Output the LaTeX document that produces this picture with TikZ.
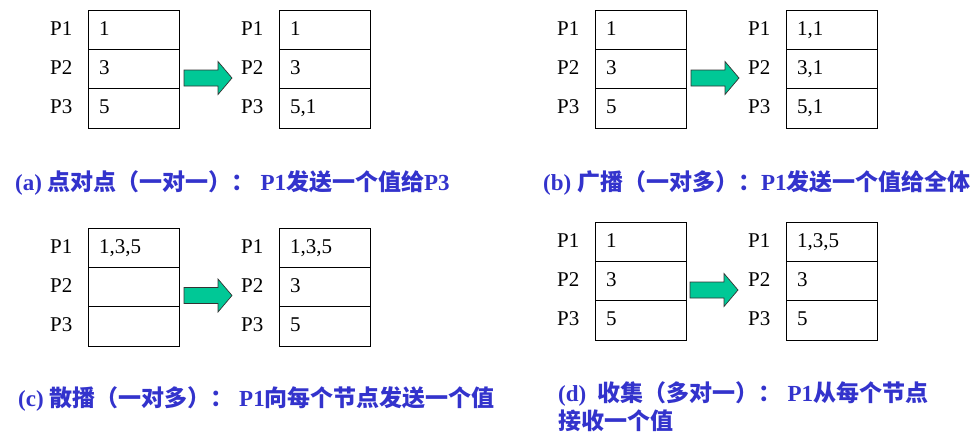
\documentclass[tikz,border=0pt]{standalone}
\usepackage{fontspec}
\setmainfont{Liberation Serif}
\newfontfamily\cjkf{Noto Sans CJK SC}
\usetikzlibrary{positioning}
\definecolor{capblue}{RGB}{51,51,204}
\definecolor{arrgreen}{RGB}{0,200,150}
\newcommand\cj[1]{{\cjkf\bfseries #1}}
\tikzset{
  cell/.style={draw, line width=0.9pt, minimum width=91pt, minimum height=39.3pt,
    text width=69pt, inner xsep=11pt, inner ysep=0pt, text height=15pt, text depth=4pt, align=left, font=\fontsize{21}{21}\selectfont},
  plabel/.style={anchor=west, inner sep=0pt, text height=15pt, text depth=4pt, font=\fontsize{21}{21}\selectfont},
  barr/.style={draw=black!80, line width=0.7pt, fill=arrgreen},
  caption/.style={anchor=west, inner sep=0pt, text=capblue, font=\fontsize{23}{28}\selectfont\bfseries, align=left}
}
% #1 prefix, #2 left x, #3 top y, #4 #5 #6 texts
\newcommand\mytable[6]{%
  \node[cell] (#1r1) at (#2+45.5,#3+19.67) {#4};
  \node[cell] (#1r2) at (#2+45.5,#3+59) {#5};
  \node[cell] (#1r3) at (#2+45.5,#3+98.33) {#6};
  \node[plabel] (#1p1) at (#2-38,#3+19.67) {P1};
  \node[plabel] (#1p2) at (#2-38,#3+59) {P2};
  \node[plabel] (#1p3) at (#2-38,#3+98.33) {P3};
}
\newcommand\blockarrow[2]{%
  \draw[barr] (#1,#2-8) -- (#1+34,#2-8) -- (#1+34,#2-16.5) -- (#1+48,#2) -- (#1+34,#2+16.5) -- (#1+34,#2+8) -- (#1,#2+8) -- cycle;
}
\begin{document}
\begin{tikzpicture}[x=1pt,y=-1pt]
\useasboundingbox (0,0) rectangle (980,437);
% (a)
\mytable{aL}{88}{10}{1}{3}{5}
\mytable{aR}{279}{10}{1}{3}{5,1}
\blockarrow{184}{78}
\node[caption] (capa) at (15,183) {(a) \cj{点对点（一对一）：} P1\cj{发送一个值给}P3};
% (b)
\mytable{bL}{595}{10}{1}{3}{5}
\mytable{bR}{786}{10}{1,1}{3,1}{5,1}
\blockarrow{691}{78}
\node[caption] (capb) at (543,183) {(b) \cj{广播（一对多）：}P1\cj{发送一个值给全体}};
% (c)
\mytable{cL}{88}{228}{1,3,5}{}{}
\mytable{cR}{279}{228}{1,3,5}{3}{5}
\blockarrow{184}{295.5}
\node[caption] (capc) at (18,399) {(c) \cj{散播（一对多）：} P1\cj{向每个节点发送一个值}};
% (d)
\mytable{dL}{595}{222}{1}{3}{5}
\mytable{dR}{786}{222}{1,3,5}{3}{5}
\blockarrow{690}{290}
\node[caption, anchor=north west] (capd) at (558,381) {(d)\ \ \cj{收集（多对一）：} P1\cj{从每个节点}\\\cj{接收一个值}};
\end{tikzpicture}
\end{document}
